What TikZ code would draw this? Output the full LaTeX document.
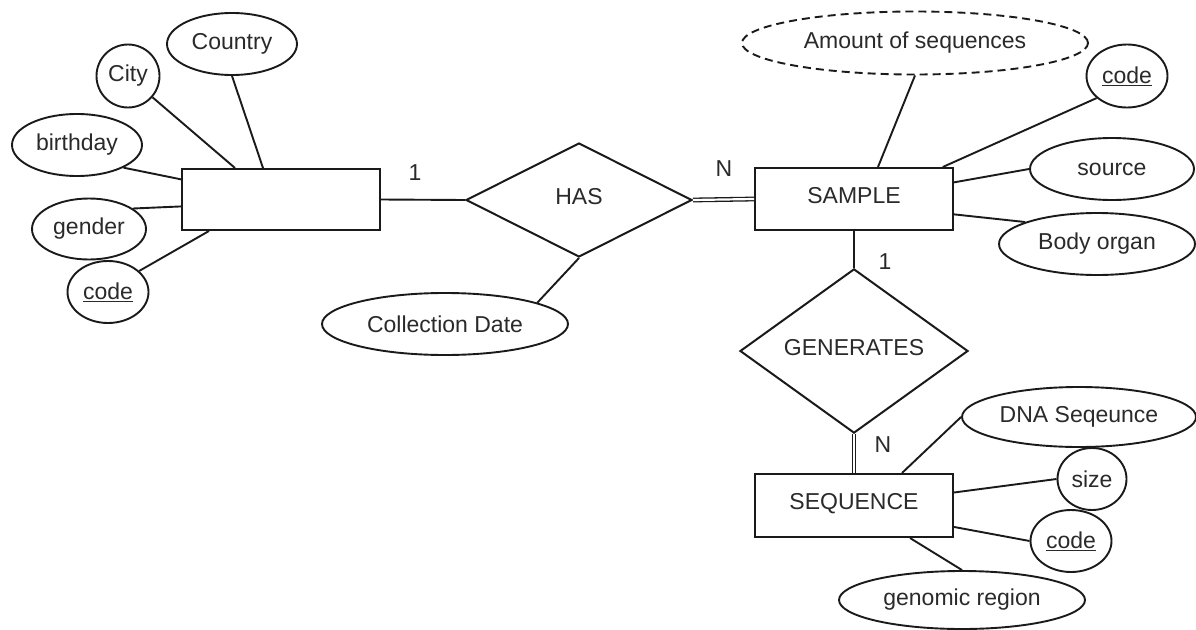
\documentclass[tikz,border=0pt]{standalone}
\usepackage{fontspec}
\setmainfont{Liberation Sans}
\usetikzlibrary{shapes.geometric,calc}
\definecolor{ink}{HTML}{1A1A1A}
\definecolor{txt}{HTML}{2A2A2A}
\begin{document}
\begin{tikzpicture}[x=1pt,y=-1pt,
  font=\fontsize{23}{27}\selectfont,
  every node/.style={text=txt},
  entitybox/.style={draw=ink,line width=2pt,rectangle,inner sep=0pt,minimum width=198pt,text depth=8pt},
  relbox/.style={draw=ink,line width=2pt,diamond,inner sep=0pt,text depth=8pt},
  attrbox/.style={draw=ink,line width=1.9pt,ellipse,inner sep=0pt},
  derived/.style={attrbox,dash pattern=on 8pt off 5pt},
  link/.style={draw=ink,line width=1.9pt},
  dbl/.style={draw=ink,line width=1.3pt,double=white,double distance=2.2pt},
  card/.style={inner sep=0pt}]
\useasboundingbox[fill=white] (0,0) rectangle (1196,629);

% entities
\node[entitybox,minimum height=61pt] (E1) at (281,199.5) {};
\node[entitybox,minimum height=62pt] (S) at (854,199) {SAMPLE};
\node[entitybox,minimum height=63pt] (Q) at (854,505.5) {SEQUENCE};

% relationships
\node[relbox,minimum width=226pt,minimum height=114pt] (H) at (579,200) {HAS};
\node[relbox,minimum width=228pt,minimum height=112pt] (G) at (854,351) {GENERATES};

% attributes of left entity
\node[attrbox,minimum width=130pt,minimum height=62pt] (country) at (232,44) {Country};
\node[attrbox,minimum width=63pt,minimum height=63pt] (city) at (128,76) {City};
\node[attrbox,minimum width=130pt,minimum height=62pt] (birthday) at (77,145) {birthday};
\node[attrbox,minimum width=114pt,minimum height=61pt] (gender) at (89,229) {gender};
\node[attrbox,minimum width=81pt,minimum height=62pt] (codeA) at (108,292) {\underline{code}};

% attribute of HAS
\node[attrbox,minimum width=246pt,minimum height=62pt] (cdate) at (445,324) {Collection Date};

% attributes of SAMPLE
\node[derived,minimum width=346pt,minimum height=63pt] (amount) at (915,43) {Amount of sequences};
\node[attrbox,minimum width=81pt,minimum height=63pt] (codeB) at (1127,76) {\underline{code}};
\node[attrbox,minimum width=164pt,minimum height=62pt] (source) at (1112,169) {source};
\node[attrbox,minimum width=196pt,minimum height=62pt] (organ) at (1097,244) {Body organ};

% attributes of SEQUENCE
\node[attrbox,minimum width=234pt,minimum height=60pt] (dna) at (1079,417) {DNA Seqeunce};
\node[attrbox,minimum width=69pt,minimum height=62pt] (size) at (1092,479) {size};
\node[attrbox,minimum width=81pt,minimum height=62pt] (codeC) at (1071,541) {\underline{code}};
\node[attrbox,minimum width=246pt,minimum height=58pt] (genomic) at (962,600) {genomic region};

% cardinalities
\node[card] (c1) at (415,173) {1};
\node[card] (cN) at (724,169) {N};
\node[card] (c2) at (885,262) {1};
\node[card] (cN2) at (883,445) {N};

% connectors: left entity
\draw[link] (country.south) -- ($(E1.north west)!0.41!(E1.north east)$);
\draw[link] (city.-41) -- ($(E1.north west)!0.27!(E1.north east)$);
\draw[link] (birthday.-26) -- ($(E1.north west)!0.18!(E1.south west)$);
\draw[link] (gender.25) -- ($(E1.north west)!0.61!(E1.south west)$);
\draw[link] (codeA.34) -- ($(E1.south west)!0.14!(E1.south east)$);

% relationships
\draw[link] (E1.east) -- (H.west);
\draw[dbl] (H.east) -- (S.west);
\draw[link] (H.south) -- (cdate.13);
\draw[link] (S.south) -- (G.north);
\draw[dbl] (G.south) -- (Q.north);

% SAMPLE attributes
\draw[link] (amount.south) -- ($(S.north west)!0.62!(S.north east)$);
\draw[link] (codeB.216) -- ($(S.north west)!0.944!(S.north east)$);
\draw[link] (source.west) -- ($(S.north east)!0.24!(S.south east)$);
\draw[link] (organ.163) -- ($(S.north east)!0.74!(S.south east)$);

% SEQUENCE attributes
\draw[link] (dna.west) -- ($(Q.north west)!0.74!(Q.north east)$);
\draw[link] (size.west) -- ($(Q.north east)!0.3!(Q.south east)$);
\draw[link] (codeC.west) -- ($(Q.north east)!0.83!(Q.south east)$);
\draw[link] (genomic.north) -- ($(Q.south west)!0.78!(Q.south east)$);
\end{tikzpicture}
\end{document}
